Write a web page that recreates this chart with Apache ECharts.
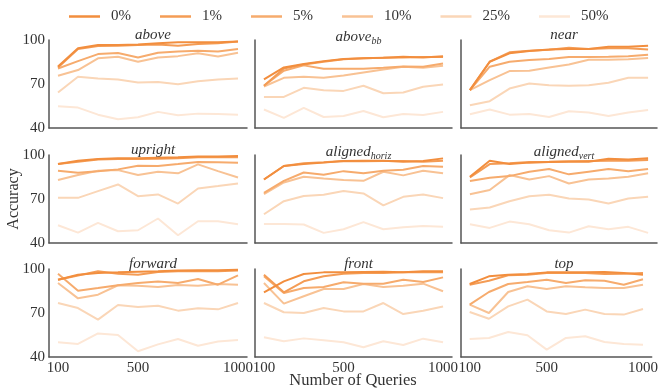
<!DOCTYPE html>
<html>
<head>
<meta charset="utf-8">
<script src="https://cdn.jsdelivr.net/npm/echarts@6/dist/echarts.min.js"></script>
<style>
  html, body { margin: 0; padding: 0; background: #fff; }
  #chart { width: 661px; height: 390px; }
</style>
</head>
<body>
<div id="chart"></div>
<script>
// Accuracy vs. number of queries, one panel per spatial relation,
// one line per noise level.
const queries = [100, 200, 300, 400, 500, 600, 700, 800, 900, 1000];
const noiseLevels = ['0%', '1%', '5%', '10%', '25%', '50%'];
const lineColors = ['#f28e3e', '#f49c55', '#f6ab6d', '#f8c294', '#fad6b7', '#fde7d6'];
const xTicks = [100, 500, 1000];
const yTicks = [40, 70, 100];

const panelTitles = ['above', '{m|above}{s|bb}', 'near',
                     'upright', '{m|aligned}{s|horiz}', '{m|aligned}{s|vert}',
                     'forward', 'front', 'top'];

// accuracy[noise level] for each panel, indexed by queries
const above = [
  [82.0, 94.3, 96.6, 96.6, 97.0, 97.7, 98.4, 98.4, 98.4, 98.9],
  [81.3, 93.8, 95.9, 96.1, 96.6, 97.0, 96.1, 97.3, 97.7, 98.9],
  [80.6, 85.6, 90.4, 91.1, 88.1, 91.3, 92.2, 92.7, 92.2, 93.8],
  [75.6, 79.5, 87.5, 88.6, 85.2, 88.1, 89.0, 90.9, 88.8, 91.3],
  [64.2, 74.9, 73.8, 73.1, 71.0, 71.3, 69.9, 71.9, 73.1, 73.8],
  [54.8, 53.9, 49.1, 45.9, 47.3, 51.0, 48.7, 49.8, 49.6, 49.1]
];
const aboveBB = [
  [73.1, 81.3, 83.6, 85.6, 87.0, 87.5, 87.9, 88.6, 88.1, 89.0],
  [68.8, 80.6, 83.3, 85.2, 86.8, 87.5, 87.9, 88.1, 88.4, 88.4],
  [68.8, 79.0, 82.7, 80.4, 80.4, 80.4, 81.1, 82.0, 81.8, 84.0],
  [68.3, 74.2, 74.9, 74.2, 75.8, 77.9, 79.9, 81.8, 81.1, 82.4],
  [61.2, 61.2, 67.4, 65.8, 65.3, 68.8, 63.7, 64.2, 68.1, 69.7],
  [52.6, 46.9, 53.7, 47.5, 48.2, 51.6, 47.3, 49.6, 48.9, 51.0]
];
const near = [
  [65.8, 85.2, 90.9, 92.5, 93.6, 93.8, 93.8, 95.4, 95.4, 96.1],
  [65.8, 85.2, 91.6, 92.7, 93.4, 94.8, 93.8, 94.3, 94.3, 93.6],
  [65.8, 81.8, 85.2, 86.3, 87.0, 88.4, 88.4, 88.6, 89.0, 90.0],
  [65.8, 72.6, 78.8, 79.0, 81.3, 83.3, 86.5, 86.5, 86.8, 87.7],
  [55.5, 58.3, 66.9, 70.3, 69.2, 68.8, 69.2, 70.8, 74.2, 74.2],
  [49.4, 52.6, 49.1, 49.6, 47.5, 51.4, 50.5, 48.2, 50.5, 52.3]
];
const upright = [
  [93.8, 96.1, 97.3, 97.7, 97.7, 98.2, 98.4, 98.9, 98.9, 99.3],
  [93.8, 95.4, 97.0, 97.3, 97.3, 97.5, 97.7, 98.4, 98.4, 98.4],
  [89.3, 87.9, 89.0, 90.2, 92.7, 92.5, 93.8, 95.2, 95.0, 94.8],
  [82.9, 86.3, 89.3, 89.7, 86.3, 88.6, 87.5, 93.6, 89.0, 84.7],
  [70.8, 70.8, 75.4, 79.9, 71.9, 73.1, 66.9, 77.2, 78.8, 80.6],
  [52.1, 47.1, 53.7, 48.0, 48.7, 56.7, 45.3, 54.8, 54.8, 52.8]
];
const alignedHoriz = [
  [83.3, 92.5, 93.8, 94.8, 95.9, 96.1, 96.1, 95.4, 95.9, 97.7],
  [83.3, 92.5, 94.3, 95.0, 95.9, 95.7, 95.9, 95.9, 95.4, 96.1],
  [74.2, 82.4, 88.1, 86.5, 89.0, 87.5, 89.3, 90.0, 92.5, 92.0],
  [73.3, 81.3, 85.2, 84.0, 82.9, 82.4, 88.6, 86.1, 89.3, 87.5],
  [59.6, 68.5, 72.1, 72.9, 75.4, 73.8, 65.6, 71.5, 73.1, 70.6],
  [53.0, 53.0, 52.6, 46.9, 49.4, 54.2, 49.4, 50.7, 51.6, 51.0]
];
const alignedVert = [
  [85.2, 96.1, 93.8, 94.8, 95.2, 95.4, 95.4, 97.5, 97.0, 97.7],
  [84.7, 93.8, 94.3, 95.2, 95.4, 95.7, 95.9, 96.1, 96.1, 96.6],
  [82.2, 84.5, 85.6, 88.6, 90.4, 86.8, 88.6, 90.4, 89.0, 90.4],
  [73.3, 76.1, 86.3, 83.3, 85.6, 80.6, 83.3, 84.0, 85.2, 87.5],
  [62.8, 64.2, 68.5, 71.9, 72.9, 70.3, 69.7, 66.9, 70.3, 71.5],
  [52.8, 50.3, 54.6, 52.8, 48.7, 47.1, 51.4, 49.4, 51.0, 46.9]
];
const forward = [
  [92.7, 96.1, 97.3, 97.7, 98.2, 98.4, 98.9, 99.1, 99.1, 99.5],
  [92.7, 95.5, 98.4, 96.8, 96.1, 98.0, 98.4, 98.4, 98.4, 98.9],
  [96.8, 85.2, 87.0, 88.9, 90.5, 91.4, 90.5, 93.2, 89.3, 95.7],
  [90.5, 80.0, 82.5, 88.9, 88.6, 87.7, 89.1, 88.6, 89.8, 89.3],
  [76.8, 73.4, 65.5, 75.5, 74.1, 75.0, 71.6, 73.2, 72.5, 76.8],
  [50.0, 48.9, 56.1, 55.0, 43.9, 48.6, 52.3, 47.7, 50.5, 51.6]
];
const front = [
  [84.1, 91.6, 96.6, 97.7, 97.7, 98.0, 98.2, 97.7, 98.4, 98.4],
  [96.1, 84.1, 91.6, 95.0, 96.8, 97.3, 97.3, 97.7, 97.7, 97.7],
  [95.0, 83.6, 87.0, 87.7, 90.9, 90.0, 90.0, 92.7, 91.1, 94.3],
  [90.5, 76.4, 81.4, 86.4, 86.4, 89.8, 87.7, 88.6, 90.0, 84.8],
  [76.8, 70.5, 70.0, 73.4, 71.1, 71.1, 76.8, 69.3, 71.6, 74.5],
  [53.4, 50.7, 52.7, 51.4, 50.0, 46.6, 50.7, 48.2, 52.5, 50.0]
];
const top_ = [
  [89.8, 95.0, 96.1, 96.6, 97.7, 97.7, 97.7, 98.0, 97.3, 96.1],
  [89.3, 92.0, 95.7, 96.1, 97.3, 97.3, 97.3, 96.6, 96.8, 97.3],
  [75.7, 84.3, 89.8, 91.1, 92.7, 90.5, 92.3, 92.0, 89.3, 93.0],
  [75.7, 70.0, 84.3, 88.2, 86.4, 88.2, 87.5, 87.0, 87.0, 89.3],
  [70.7, 66.1, 74.5, 79.1, 71.1, 69.3, 72.3, 69.3, 68.9, 72.7],
  [52.3, 53.0, 57.0, 54.8, 45.0, 53.0, 54.1, 50.2, 48.9, 48.4]
];

const panels = [above, aboveBB, near, upright, alignedHoriz, alignedVert, forward, front, top_];

const FONT = '"Liberation Serif", "DejaVu Serif", serif';
const colLeft = [49, 255, 461];
const colWidth = [198, 197, 196];
const rowTop = [40, 155, 269];
const rowHeight = 88;

const grids = [], xAxes = [], yAxes = [], titles = [], series = [];

panels.forEach((panel, i) => {
  const r = Math.floor(i / 3), c = i % 3;
  grids.push({ left: colLeft[c], top: rowTop[r], width: colWidth[c], height: rowHeight });
  xAxes.push({
    type: 'value', gridIndex: i, min: 55, max: 1045,
    axisLine: { show: true, onZero: false, lineStyle: { color: '#555', width: 1.5 } },
    axisTick: { show: false },
    splitLine: { show: false },
    axisLabel: {
      show: r === 2, customValues: xTicks, margin: 4,
      formatter: v => String(v),
      color: '#333', fontFamily: FONT, fontSize: 15
    }
  });
  yAxes.push({
    type: 'value', gridIndex: i, min: 40, max: 100,
    axisLine: { show: true, lineStyle: { color: '#555', width: 1.5 } },
    axisTick: { show: false },
    splitLine: { show: false },
    axisLabel: {
      show: c === 0, customValues: yTicks, margin: 4,
      formatter: v => String(v),
      color: '#333', fontFamily: FONT, fontSize: 15
    }
  });
  titles.push({
    text: panelTitles[i],
    left: colLeft[c] + colWidth[c] / 2, top: rowTop[r] - 17,
    textAlign: 'center',
    textStyle: {
      fontFamily: FONT, fontStyle: 'italic', fontWeight: 'normal',
      fontSize: 15, color: '#333',
      rich: {
        m: { fontFamily: FONT, fontStyle: 'italic', fontSize: 15, color: '#333' },
        s: { fontFamily: FONT, fontStyle: 'italic', fontSize: 10, color: '#333', padding: [8, 0, 0, 0] }
      }
    }
  });
  panel.forEach((vals, k) => {
    series.push({
      name: noiseLevels[k], type: 'line', xAxisIndex: i, yAxisIndex: i,
      data: queries.map((q, j) => [q, vals[j]]),
      showSymbol: false, symbol: 'none', silent: true,
      z: 10 - k,
      lineStyle: { color: lineColors[k], width: 2 },
      itemStyle: { color: lineColors[k] }
    });
  });
});

const chart = echarts.init(document.getElementById('chart'), null, { renderer: 'canvas' });
chart.setOption({
  animation: false,
  backgroundColor: '#fff',
  title: titles,
  legend: {
    data: noiseLevels, left: 64, top: 4,
    icon: 'rect', itemWidth: 31, itemHeight: 2.5, itemGap: 29,
    textStyle: { fontFamily: FONT, fontSize: 15, color: '#333', padding: [0, 0, 0, 6] }
  },
  grid: grids, xAxis: xAxes, yAxis: yAxes, series: series,
  graphic: [
    {
      type: 'text', rotation: Math.PI / 2, x: 14, y: 199,
      style: { text: 'Accuracy', fontFamily: FONT, fontSize: 16, fill: '#333', align: 'center', verticalAlign: 'middle' }
    },
    {
      type: 'text', x: 353, y: 381,
      style: { text: 'Number of Queries', fontFamily: FONT, fontSize: 16.5, fill: '#333', align: 'center', verticalAlign: 'middle' }
    }
  ]
});
</script>
</body>
</html>
